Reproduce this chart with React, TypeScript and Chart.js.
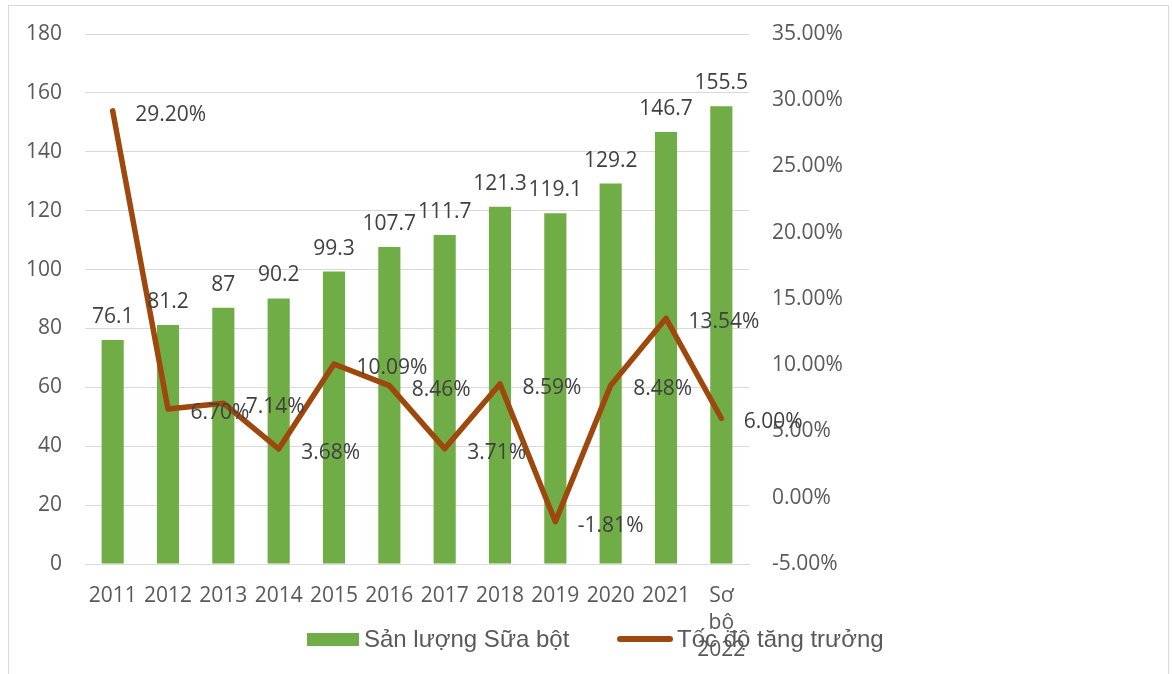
import React, { useEffect, useRef } from 'react';
import { Chart, registerables } from 'chart.js';

Chart.register(...registerables);

const categories = ['2011', '2012', '2013', '2014', '2015', '2016', '2017', '2018', '2019', '2020', '2021', 'Sơ bộ 2022'];
const production = [76.1, 81.2, 87, 90.2, 99.3, 107.7, 111.7, 121.3, 119.1, 129.2, 146.7, 155.5];
const growth = [29.2, 6.7, 7.14, 3.68, 10.09, 8.46, 3.71, 8.59, -1.81, 8.48, 13.54, 6.0];
const seriesNames = ['Sản lượng Sữa bột', 'Tốc độ tăng trưởng'];

const BAR_COLOR = '#70AD47';
const LINE_COLOR = '#9E480E';
const TICK_COLOR = '#595959';
const LABEL_COLOR = '#404040';
const GRID_COLOR = '#d9d9d9';
const TICK_FONT = { family: '"Open Sans", sans-serif', size: 21, lineHeight: 1.3 };

const valueLabels = {
  id: 'valueLabels',
  afterDatasetsDraw(chart: any) {
    const ctx = chart.ctx;
    ctx.save();
    ctx.font = '21px "Open Sans", sans-serif';
    ctx.fillStyle = LABEL_COLOR;
    const barMeta = chart.getDatasetMeta(0);
    barMeta.data.forEach((el: any, i: number) => {
      ctx.textAlign = 'center';
      ctx.textBaseline = 'alphabetic';
      ctx.fillText(String(production[i]), el.x, el.y - 17);
    });
    const lineMeta = chart.getDatasetMeta(1);
    lineMeta.data.forEach((el: any, i: number) => {
      ctx.textAlign = 'left';
      ctx.textBaseline = 'middle';
      ctx.fillText(growth[i].toFixed(2) + '%', el.x + 22.5, el.y + 4);
    });
    ctx.restore();
  },
  afterDraw(chart: any) {
    const ctx = chart.ctx;
    ctx.save();
    // legend item 1: bar
    ctx.fillStyle = BAR_COLOR;
    ctx.fillRect(298, 627, 52, 13);
    ctx.font = '24px "Liberation Sans", Arial, sans-serif';
    ctx.fillStyle = TICK_COLOR;
    ctx.textAlign = 'left';
    ctx.textBaseline = 'alphabetic';
    ctx.fillText(seriesNames[0], 355, 641);
    // legend item 2: line
    ctx.strokeStyle = LINE_COLOR;
    ctx.lineWidth = 6;
    ctx.lineCap = 'round';
    ctx.beginPath();
    ctx.moveTo(611, 633);
    ctx.lineTo(661, 633);
    ctx.stroke();
    ctx.fillText(seriesNames[1], 668, 641);
    ctx.restore();
  },
};

export default function App() {
  const canvasRef = useRef<HTMLCanvasElement | null>(null);

  useEffect(() => {
    if (!canvasRef.current) return;
    const chart = new Chart(canvasRef.current, {
      type: 'bar',
      data: {
        labels: categories,
        datasets: [
          {
            type: 'bar',
            label: seriesNames[0],
            data: production,
            backgroundColor: BAR_COLOR,
            borderWidth: 0,
            barPercentage: 0.4,
            categoryPercentage: 1,
            yAxisID: 'y',
            order: 2,
          },
          {
            type: 'line',
            label: seriesNames[1],
            data: growth,
            borderColor: LINE_COLOR,
            backgroundColor: LINE_COLOR,
            borderWidth: 5.5,
            borderJoinStyle: 'round',
            borderCapStyle: 'round',
            pointRadius: 0,
            pointHoverRadius: 0,
            tension: 0,
            yAxisID: 'y1',
            order: 1,
          },
        ] as any,
      },
      options: {
        responsive: false,
        animation: false,
        layout: { padding: { top: 28, left: 0, right: 269, bottom: 0 } },
        plugins: {
          legend: { display: false },
          tooltip: { enabled: false },
        },
        scales: {
          x: {
            grid: { display: false, drawTicks: false },
            border: { display: true, color: GRID_COLOR, width: 1 },
            ticks: {
              color: TICK_COLOR,
              font: TICK_FONT,
              padding: 18,
              maxRotation: 0,
              autoSkip: false,
              callback: (_v: any, i: number) => {
                const l = categories[i];
                return l.includes(' ') ? l.split(' ') : l;
              },
            },
            afterFit: (scale: any) => {
              scale.height = 110;
              scale.paddingLeft = 0;
              scale.paddingRight = 0;
            },
          },
          y: {
            position: 'left',
            min: 0,
            max: 180,
            grid: { color: GRID_COLOR, lineWidth: 1, drawTicks: false },
            border: { display: false },
            ticks: { stepSize: 20, color: TICK_COLOR, font: TICK_FONT, padding: 23 },
            afterFit: (scale: any) => {
              scale.width = 76;
              scale.paddingTop = 0;
              scale.paddingBottom = 0;
            },
          },
          y1: {
            position: 'right',
            min: -5,
            max: 35,
            grid: { display: false, drawTicks: false },
            border: { display: false },
            ticks: {
              stepSize: 5,
              color: TICK_COLOR,
              font: TICK_FONT,
              padding: 23,
              callback: (v: any) => Number(v).toFixed(2) + '%',
            },
            afterFit: (scale: any) => {
              scale.width = 150;
              scale.paddingTop = 0;
              scale.paddingBottom = 0;
            },
          },
        },
      } as any,
      plugins: [valueLabels],
    });
    return () => chart.destroy();
  }, []);

  return (
    <div
      style={{
        position: 'absolute',
        left: 8,
        top: 5,
        width: 1161,
        height: 669,
        boxSizing: 'border-box',
        border: '1px solid #d9d9d9',
        borderBottom: 'none',
        background: '#ffffff',
      }}
    >
      <canvas ref={canvasRef} width={1159} height={668} style={{ display: 'block' }} />
    </div>
  );
}
